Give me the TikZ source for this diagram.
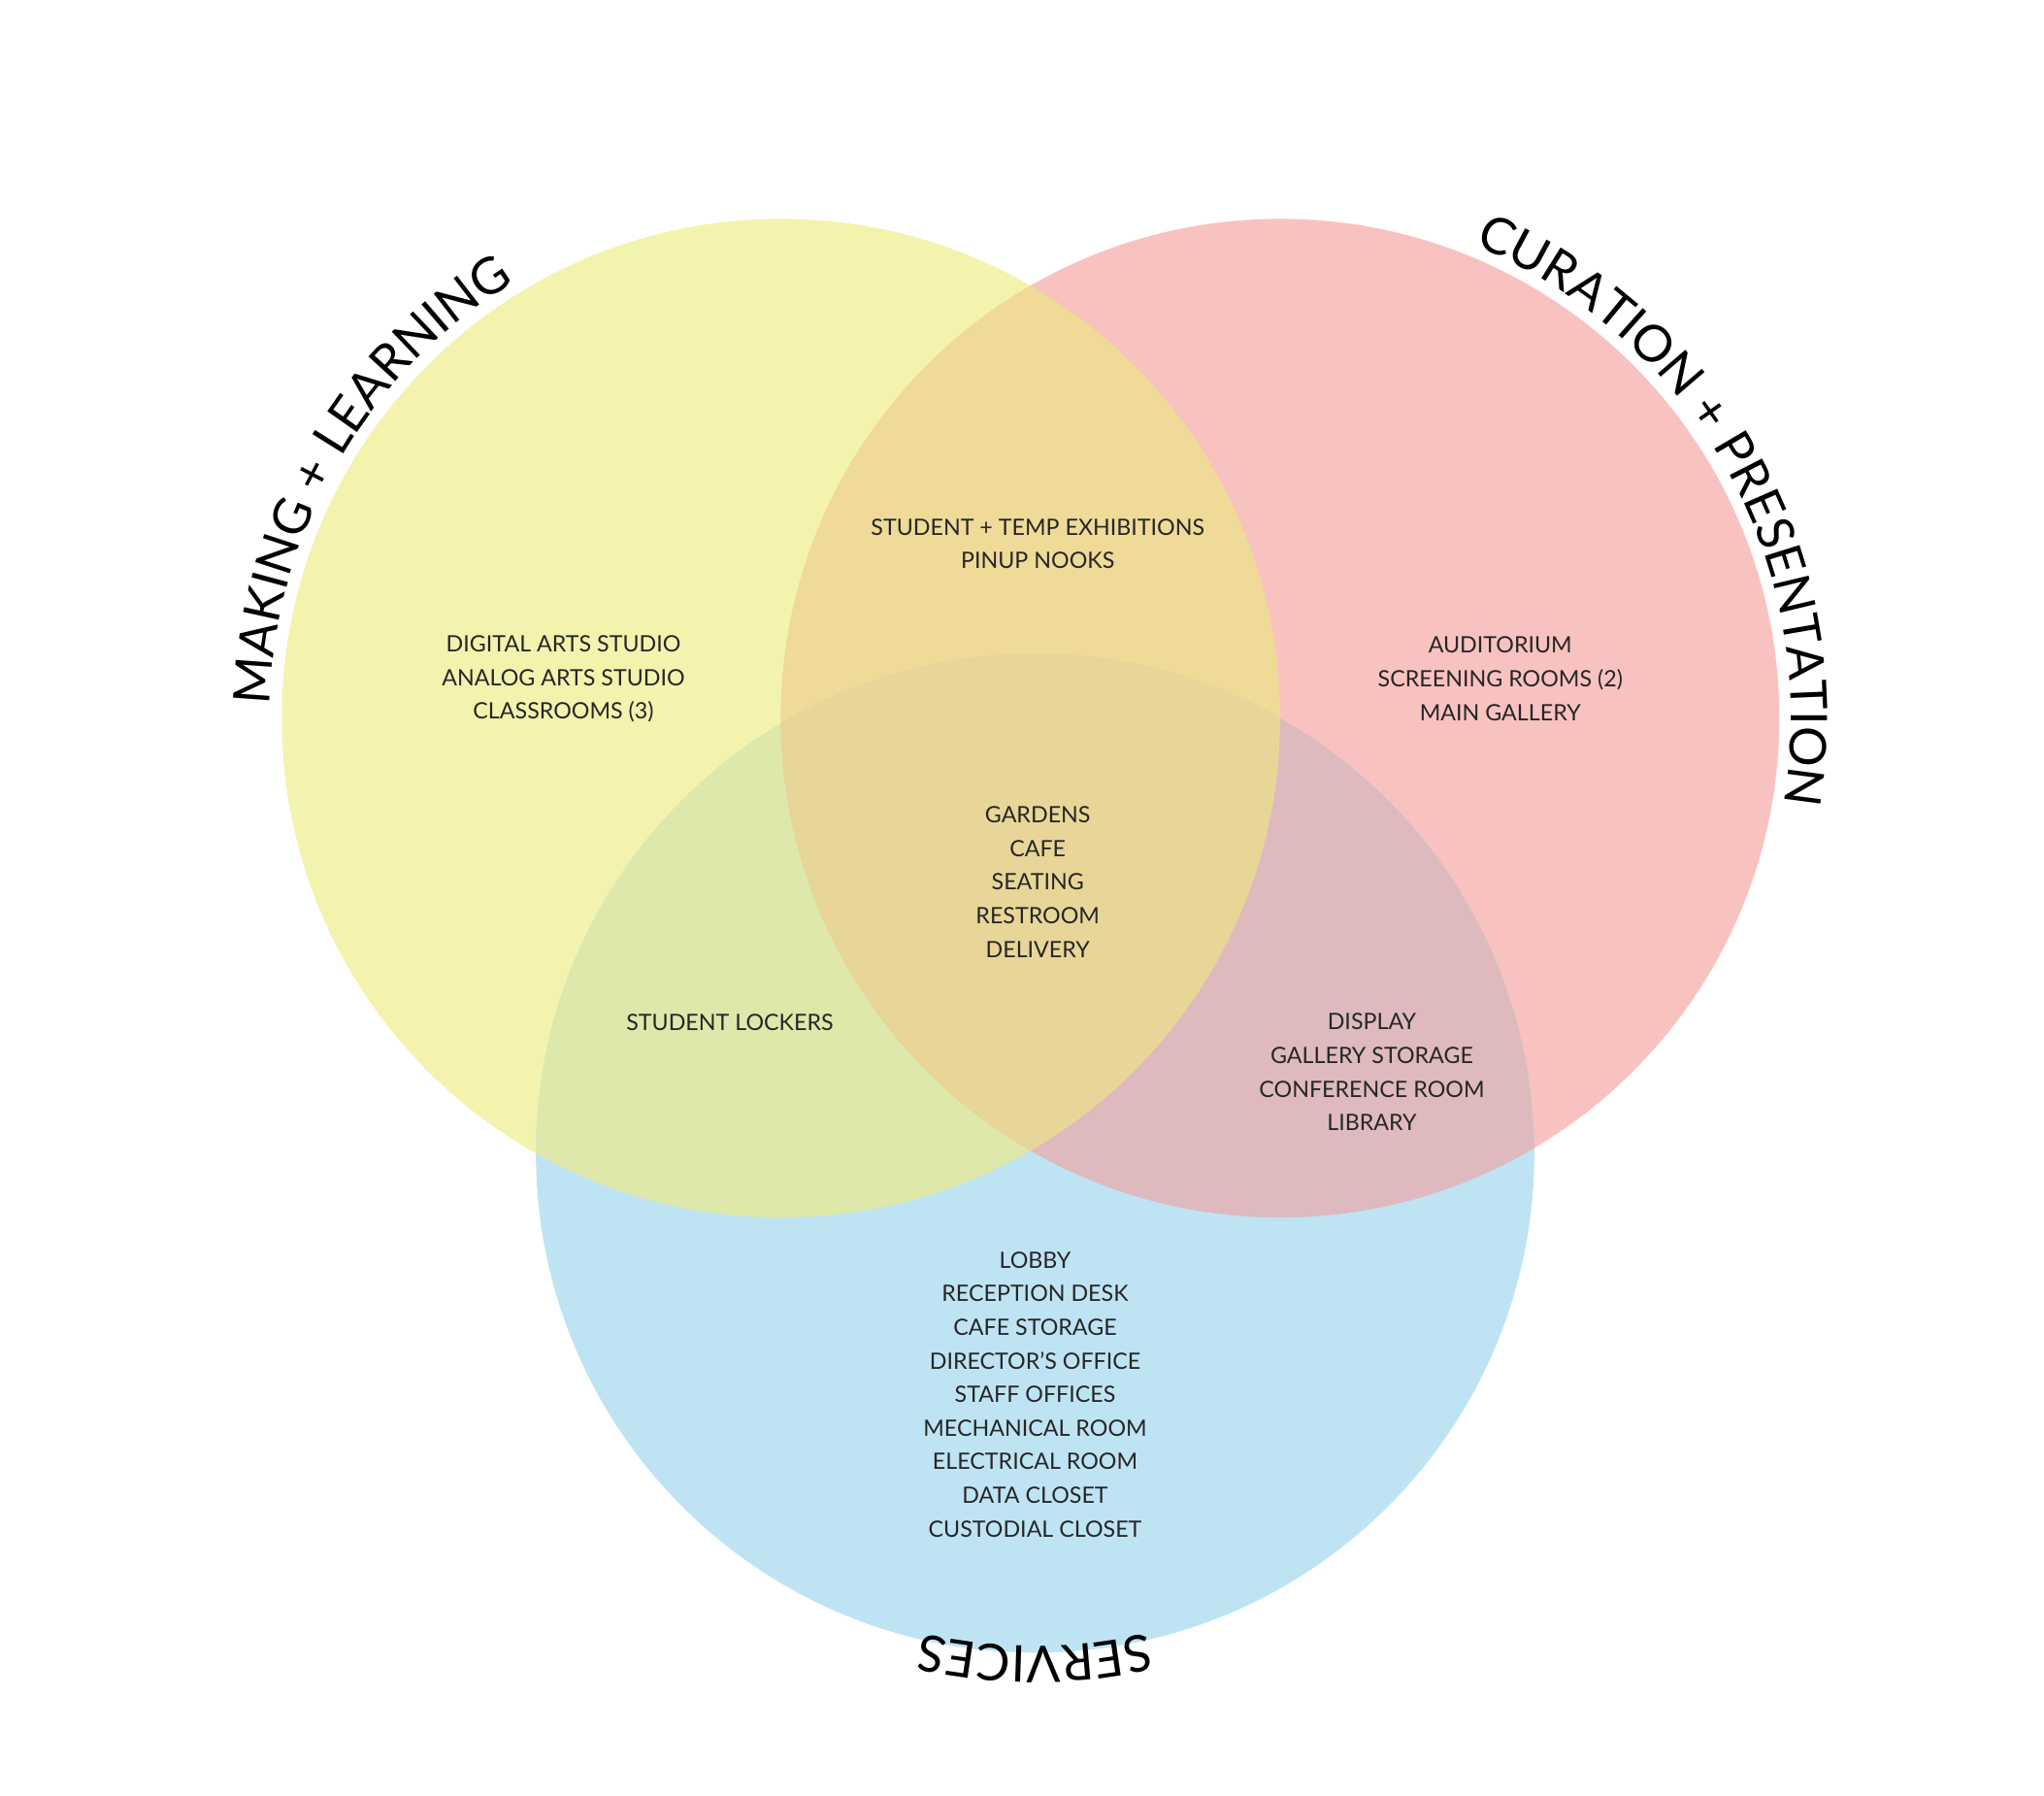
\documentclass[tikz,border=0pt]{standalone}
\usepackage{fontspec}
\setmainfont{Lato}
\usetikzlibrary{decorations.text}
\definecolor{cy}{RGB}{243,243,174}
\definecolor{cr}{RGB}{248,194,192}
\definecolor{cb}{RGB}{190,228,244}
\definecolor{cyr}{RGB}{240,218,152}
\definecolor{cyb}{RGB}{222,232,170}
\definecolor{crb}{RGB}{222,186,190}
\definecolor{cyrb}{RGB}{232,214,152}
\tikzset{lbl/.style={align=center,font=\fontsize{9.8}{14.6}\selectfont,text=black!85}}
\begin{document}
\begin{tikzpicture}[x=0.02cm,y=0.02cm]
\useasboundingbox (0,0) rectangle (1560,1370);
\def\Y{(596,822) circle[radius=381]}
\def\R{(977,822) circle[radius=381]}
\def\B{(790,490) circle[radius=381]}
\fill[cy] \Y; \fill[cr] \R; \fill[cb] \B;
\begin{scope}\clip \Y; \fill[cyr] \R; \fill[cyb] \B; \end{scope}
\begin{scope}\clip \R; \fill[crb] \B; \end{scope}
\begin{scope}\clip \Y; \clip \R; \fill[cyrb] \B; \end{scope}
\node[lbl] (se) at (792,955) {STUDENT + TEMP EXHIBITIONS\\PINUP NOOKS};
\node[lbl] (dg) at (430,852) {DIGITAL ARTS STUDIO\\ANALOG ARTS STUDIO\\CLASSROOMS (3)};
\node[lbl] (au) at (1145,852) {AUDITORIUM\\SCREENING ROOMS (2)\\MAIN GALLERY};
\node[lbl] (ga) at (792,697) {GARDENS\\CAFE\\SEATING\\RESTROOM\\DELIVERY};
\node[lbl] (sl) at (557,590) {STUDENT LOCKERS};
\node[lbl] (di) at (1047,552) {DISPLAY\\GALLERY STORAGE\\CONFERENCE ROOM\\LIBRARY};
\node[lbl] (lo) at (790,306) {LOBBY\\RECEPTION DESK\\CAFE STORAGE\\DIRECTOR’S OFFICE\\STAFF OFFICES\\MECHANICAL ROOM\\ELECTRICAL ROOM\\DATA CLOSET\\CUSTODIAL CLOSET};
\path[decorate,decoration={text along path,text align=center,
  text={|\fontsize{22}{22}\selectfont|MAKING + LEARNING}}]
  (596,822) ++(197:390) arc[start angle=197,end angle=103,radius=390];
\path[decorate,decoration={text along path,text align=center,
  text={|\fontsize{22}{22}\selectfont|CURATION + PRESENTATION}}]
  (977,822) ++(79:390) arc[start angle=79,end angle=-21,radius=390];
\path[decorate,decoration={text along path,text align=center,
  text={|\fontsize{22}{22}\selectfont|SERVICES}}]
  (790,490) ++(-60:376) arc[start angle=-60,end angle=-120,radius=376];
\end{tikzpicture}
\end{document}
